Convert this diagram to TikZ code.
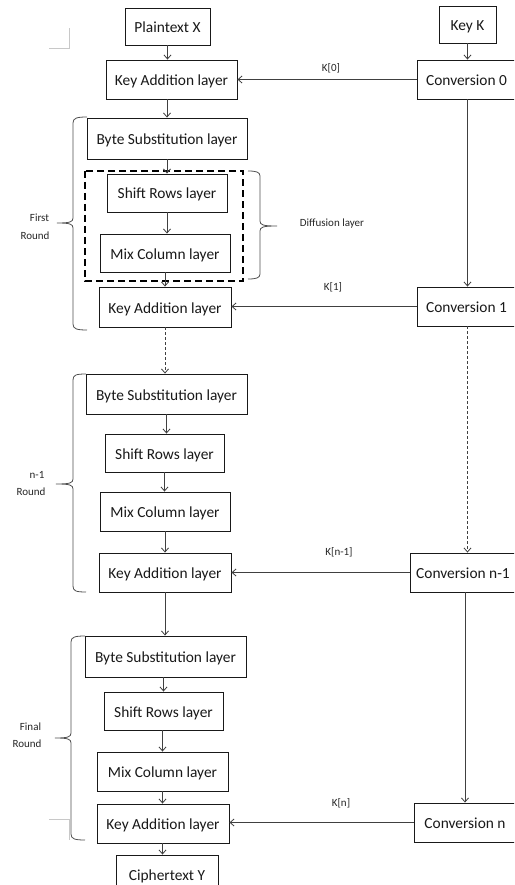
\documentclass[tikz,border=0pt]{standalone}
\usepackage{fontspec}
\setmainfont{Carlito}
\usetikzlibrary{arrows.meta}
\definecolor{linegray}{HTML}{404040}
\definecolor{bracegray}{HTML}{505050}
\definecolor{markgray}{HTML}{C8C8C8}
\tikzset{
  box/.style={draw=black!90, line width=0.9pt, inner sep=0pt, align=center,
    text height=14pt, text depth=2pt,
    font=\fontsize{15.4}{18}\selectfont, text=black!90},
  lbl/.style={inner sep=0pt, font=\fontsize{11}{13}\selectfont, text=black!85},
  arr/.style={draw=linegray, line width=0.8pt, -{Straight Barb[length=4pt,width=7pt]}},
  darr/.style={arr, dash pattern=on 3pt off 2pt},
  brc/.style={draw=bracegray, line width=0.8pt},
  dbox/.style={draw=black, line width=1.8pt, dash pattern=on 7pt off 4pt},
  cropmark/.style={draw=markgray, line width=0.6pt}
}
\begin{document}
\begin{tikzpicture}[x=1pt,y=-1pt]
\useasboundingbox (0,0) rectangle (514,885);
\clip (0,0) rectangle (514,885);
\fill[white] (0,0) rectangle (514,885);

% corner marks
\draw[cropmark] (49,48) -- (69,48) -- (69,28);
\draw[cropmark] (49,819) -- (69,819) -- (69,840);

% top
\node[box, minimum width=85pt, minimum height=37pt] (pt) at (167.5,26.5) {Plaintext X};
\node[box, minimum width=57pt, minimum height=37pt] (kk) at (467.5,24.5) {Key K};
\node[box, minimum width=131pt, minimum height=39pt] (ka1) at (171.5,79.5) {Key Addition layer};
\node[box, minimum width=99pt, minimum height=39pt] (c0) at (466.5,79.5) {Conversion 0};

% first round
\node[box, minimum width=160pt, minimum height=41pt] (bs1) at (167,138.5) {Byte Substitution layer};
\node[box, minimum width=120pt, minimum height=38pt] (sr1) at (167,193) {Shift Rows layer};
\node[box, minimum width=130pt, minimum height=38pt] (mc1) at (165,253) {Mix Column layer};
\node[box, minimum width=132pt, minimum height=40pt] (ka2) at (165,307) {Key Addition layer};
\node[box, minimum width=99pt, minimum height=39pt] (c1) at (466.5,306.5) {Conversion 1};
\draw[dbox] (85,171) rectangle (243,281);

% n-1 round
\node[box, minimum width=161pt, minimum height=40pt] (bs2) at (166.5,394) {Byte Substitution layer};
\node[box, minimum width=119pt, minimum height=38pt] (sr2) at (164.5,453) {Shift Rows layer};
\node[box, minimum width=130pt, minimum height=39pt] (mc2) at (165,511.5) {Mix Column layer};
\node[box, minimum width=132pt, minimum height=39pt] (ka3) at (165,572.5) {Key Addition layer};
\node[box, minimum width=106pt, minimum height=39pt] (cn1) at (463,572.5) {Conversion n-1};

% final round
\node[box, minimum width=161pt, minimum height=41pt] (bs3) at (165.5,656.5) {Byte Substitution layer};
\node[box, minimum width=119pt, minimum height=38pt] (sr3) at (163.5,711) {Shift Rows layer};
\node[box, minimum width=131pt, minimum height=39pt] (mc3) at (162.5,771.5) {Mix Column layer};
\node[box, minimum width=132pt, minimum height=39pt] (ka4) at (163,823.5) {Key Addition layer};
\node[box, minimum width=102pt, minimum height=39pt] (cn) at (465,822.5) {Conversion n};
\node[box, minimum width=102pt, minimum height=39pt] (cy) at (167,874.5) {Ciphertext Y};

% labels
\node[lbl] (l0) at (331,68) {K[0]};
\node[lbl] (l1) at (333,287) {K[1]};
\node[lbl] (l2) at (339,552) {K[n-1]};
\node[lbl] (l3) at (341,803) {K[n]};
\node[lbl] (ldiff) at (332,224) {Diffusion layer};
\node[lbl] (lf1) at (39.5,218) {First};
\node[lbl] (lf2) at (35,236) {Round};
\node[lbl] (ln1) at (37,475) {n-1};
\node[lbl] (ln2) at (31,492) {Round};
\node[lbl] (lfi1) at (30.5,727) {Final};
\node[lbl] (lfi2) at (27,744) {Round};

% connectors
\draw[arr] (pt.south) -- (pt.south |- ka1.north);
\draw[arr] (kk.south) -- (kk.south |- c0.north);
\draw[arr] (c0.west) -- (c0.west -| ka1.east);
\draw[arr] (kk.south |- c0.south) -- (kk.south |- c1.north);
\draw[arr] (bs1.north |- ka1.south) -- (bs1.north);
\draw[arr] (bs1.south) -- (sr1.north);
\draw[arr] (sr1.south) -- (sr1.south |- mc1.north);
\draw[arr] (mc1.south) -- (mc1.south |- ka2.north);
\draw[darr] (ka2.south) -- (ka2.south |- bs2.north);
\draw[arr] (c1.west) -- (c1.west -| ka2.east);
\draw[darr] (kk.south |- c1.south) -- (kk.south |- cn1.north);
\draw[arr] (bs2.south) -- (bs2.south |- sr2.north);
\draw[arr] (sr2.south) -- (sr2.south |- mc2.north);
\draw[arr] (mc2.south) -- (mc2.south |- ka3.north);
\draw[arr] (cn1.west) -- (cn1.west -| ka3.east);
\draw[arr] (ka3.south) -- (ka3.south |- bs3.north);
\draw[arr] (cn1.south -| cn.north) -- (cn.north);
\draw[arr] (sr3.north |- bs3.south) -- (sr3.north);
\draw[arr] (mc3.north |- sr3.south) -- (mc3.north);
\draw[arr] (mc3.south) -- (mc3.south |- ka4.north);
\draw[arr] (cn.west) -- (cn.west -| ka4.east);
\draw[arr] (mc3.south |- ka4.south) -- (mc3.south |- cy.north);

% braces
\draw[brc] (87,117) .. controls (77,117) and (73,118) .. (73,123) -- (73,218)
  .. controls (73,222) and (70,223) .. (57,223)
  .. controls (70,223) and (73,224) .. (73,228) -- (73,324)
  .. controls (73,329) and (77,330) .. (87,330);
\draw[brc] (86,374) .. controls (76,374) and (73,375) .. (73,380) -- (73,479)
  .. controls (73,483) and (70,484) .. (56,484)
  .. controls (70,484) and (73,485) .. (73,489) -- (73,586)
  .. controls (73,591) and (76,592) .. (86,592);
\draw[brc] (85,636) .. controls (75,636) and (71,637) .. (71,642) -- (71,733)
  .. controls (71,737) and (68,738) .. (55,738)
  .. controls (68,738) and (71,739) .. (71,743) -- (71,834)
  .. controls (71,839) and (75,840) .. (85,840);
\draw[brc] (248,171) .. controls (256,171) and (260,172) .. (260,176) -- (260,221)
  .. controls (260,225) and (263,226) .. (277,226)
  .. controls (263,226) and (260,227) .. (260,231) -- (260,274)
  .. controls (260,278) and (256,279) .. (248,279);
\end{tikzpicture}
\end{document}
